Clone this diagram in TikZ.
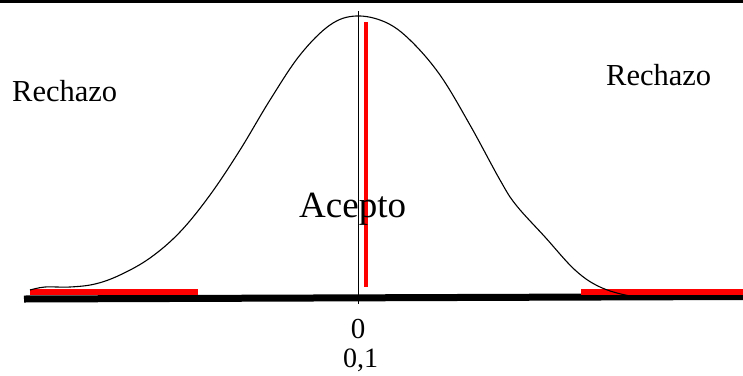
\documentclass[tikz,border=0pt]{standalone}
\usepackage{fontspec}
\setmainfont{Liberation Serif}
\tikzset{
  lbl/.style={inner sep=0pt, anchor=base west},
  redbar/.style={red, line width=6pt},
  curve/.style={black, line width=1.1pt},
}
\begin{document}
\begin{tikzpicture}[x=1pt,y=-1pt]
\useasboundingbox (0,0) rectangle (743,375);
\fill[black] (0,0) rectangle (743,3);
% axis
\draw[black, line width=7pt] (24,299) -- (743,296.5);
% red bars
\draw[redbar] (30,291.5) -- (198,291.5);
\draw[redbar] (581,292) -- (743,292);
% bell curve
\draw[curve] plot[smooth, tension=0.6] coordinates {
 (30,290) (45,287) (70,287) (95,284) (120,275) (150,258) (180,232)
 (210,195) (240,150) (270,100) (300,55) (330,25) (356,16) (385,22)
 (410,40) (440,75) (470,125) (500,180) (516,205) (545,237) (575,270)
 (600,287) (630,296) (660,299) (700,298) (743,296)};
% vertical lines
\draw[black, line width=1pt] (358,11) -- (358,304);
\draw[red, line width=4pt] (366,22) -- (366,287);
% labels
\node[lbl, font=\fontsize{30.5}{30.5}\selectfont] (r1) at (12,101) {Rechazo};
\node[lbl, font=\fontsize{30.5}{30.5}\selectfont] (r2) at (606,85) {Rechazo};
\node[lbl, font=\fontsize{37}{37}\selectfont] (ac) at (299,217) {Acepto};
\node[inner sep=0pt, anchor=base, font=\fontsize{29}{29}\selectfont] (z) at (358,338) {0};
\node[lbl, font=\fontsize{28}{28}\selectfont] (z1) at (343,367) {0,1};
\end{tikzpicture}
\end{document}
